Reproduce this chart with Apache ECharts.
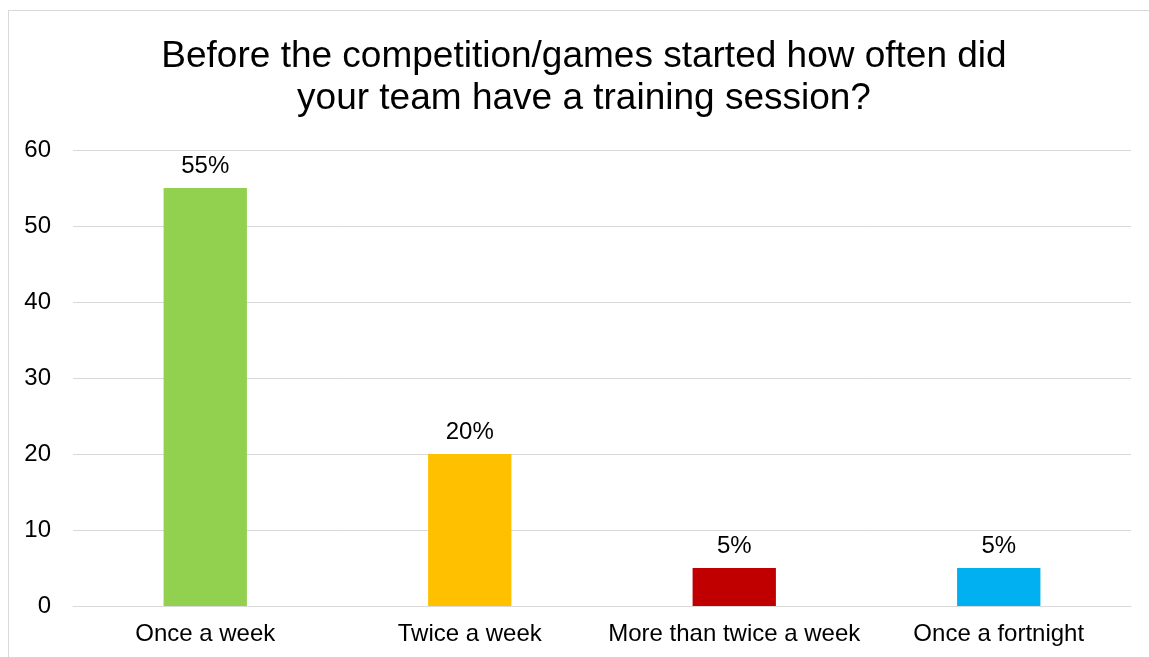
<!DOCTYPE html>
<html>
<head>
<meta charset="utf-8">
<style>
  html, body { margin: 0; padding: 0; background: #fff; }
  #frame { position: absolute; left: 8px; top: 10px; width: 1200px; height: 700px; border: 1px solid #d9d9d9; box-sizing: border-box; }
  #chart { position: absolute; left: 0; top: 0; width: 1149px; height: 657px; }
</style>
<script src="https://cdn.jsdelivr.net/npm/echarts@6/dist/echarts.min.js"></script>
</head>
<body>
<div id="frame"></div>
<div id="chart"></div>
<script>
const categories = ['Once a week', 'Twice a week', 'More than twice a week', 'Once a fortnight'];
const values = [55, 20, 5, 5];
const barColors = ['#92D050', '#FFC000', '#C00000', '#00B0F0'];
const yTicks = { min: 0, max: 60, interval: 10 };
const titleText = 'Before the competition/games started how often did\nyour team have a training session?';

const FONT = 'Liberation Sans, Arial, sans-serif';

const chart = echarts.init(document.getElementById('chart'));
chart.setOption({
  animation: false,
  backgroundColor: 'transparent',
  // Title is centred over the framed chart area rather than the canvas
  graphic: [{
    type: 'text',
    x: 584,
    y: 36,
    silent: true,
    style: {
      text: titleText,
      align: 'center',
      verticalAlign: 'top',
      fontFamily: FONT,
      fontSize: 37,
      lineHeight: 42,
      fill: '#000'
    }
  }],
  grid: { left: 73, right: 18, top: 150, bottom: 51, containLabel: false },
  xAxis: {
    type: 'category',
    data: categories,
    axisLine: { lineStyle: { color: '#d9d9d9', width: 1 } },
    axisTick: { show: false },
    axisLabel: {
      interval: 0,
      fontFamily: FONT,
      fontSize: 24,
      color: '#000',
      margin: 16
    }
  },
  yAxis: {
    type: 'value',
    min: yTicks.min,
    max: yTicks.max,
    interval: yTicks.interval,
    axisLine: { show: false },
    axisTick: { show: false },
    splitLine: { lineStyle: { color: '#d9d9d9', width: 1 } },
    axisLabel: {
      fontFamily: FONT,
      fontSize: 24,
      color: '#000',
      margin: 22
    }
  },
  series: [{
    type: 'bar',
    data: values.map((v, i) => ({ value: v, itemStyle: { color: barColors[i] } })),
    barWidth: '31.5%',
    label: {
      show: true,
      position: 'top',
      distance: 10,
      formatter: p => p.value + '%',
      fontFamily: FONT,
      fontSize: 24,
      color: '#000'
    }
  }]
});
</script>
</body>
</html>
